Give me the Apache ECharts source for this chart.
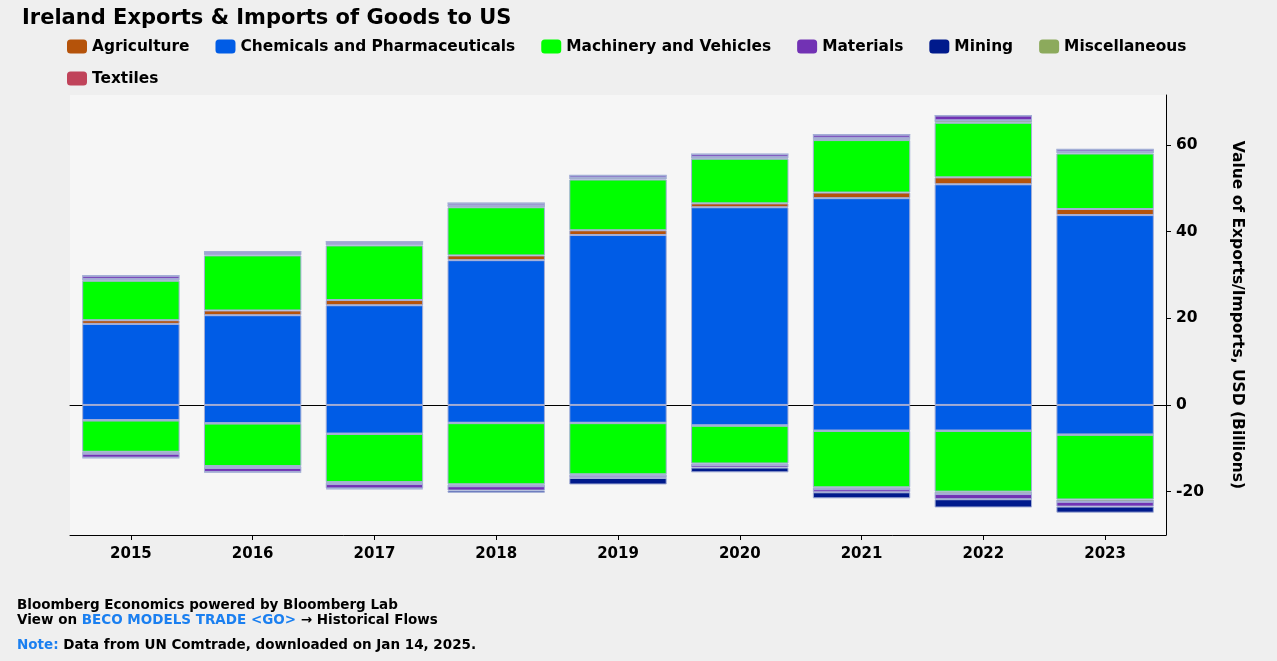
<!DOCTYPE html>
<html>
<head>
<meta charset="utf-8">
<script src="https://cdn.jsdelivr.net/npm/echarts@6/dist/echarts.min.js"></script>
<style>
html,body{margin:0;padding:0;background:#efefef;}
#chart{width:1277px;height:661px;}
</style>
</head>
<body>
<div id="chart"></div>
<script>
const years = ['2015','2016','2017','2018','2019','2020','2021','2022','2023'];
const yTicks = [-20, 0, 20, 40, 60];
const categoryNames = ['Agriculture','Chemicals and Pharmaceuticals','Machinery and Vehicles','Materials','Mining','Miscellaneous','Textiles'];

// Exports (positive, billions USD)
const expChemicals = [18.7, 20.7, 23.0, 33.4, 39.2, 45.6, 47.7, 50.9, 43.8];
const expAgriculture = [0.85, 1.1, 1.2, 1.1, 1.1, 0.9, 1.3, 1.6, 1.4];
const expMachinery = [9.1, 12.7, 12.6, 11.1, 11.7, 10.3, 12.1, 12.6, 12.8];
const expMiscellaneous = [0.4, 0.35, 0.35, 0.4, 0.4, 0.4, 0.5, 0.5, 0.4];
const expTextiles = [0.05, 0.05, 0.05, 0.05, 0.05, 0.05, 0.05, 0.05, 0.05];
const expMaterials = [0.7, 0.45, 0.45, 0.5, 0.5, 0.6, 0.7, 1.1, 0.5];
const expMining = [0.02, 0.02, 0.02, 0.02, 0.02, 0.02, 0.02, 0.02, 0.02];

// Imports (negative, billions USD)
const impChemicals = [-3.5, -4.2, -6.6, -4.1, -4.1, -4.7, -5.9, -5.9, -6.8];
const impAgriculture = [-0.1, -0.1, -0.1, -0.1, -0.1, -0.1, -0.1, -0.1, -0.1];
const impMachinery = [-7.2, -9.8, -11.1, -14.1, -11.8, -8.7, -13.0, -14.0, -14.9];
const impMiscellaneous = [-0.4, -0.4, -0.4, -0.4, -0.3, -0.3, -0.4, -0.5, -0.5];
const impTextiles = [-0.05, -0.05, -0.05, -0.05, -0.05, -0.05, -0.05, -0.05, -0.05];
const impMaterials = [-0.9, -0.9, -1.0, -1.0, -0.5, -0.6, -0.7, -1.2, -1.1];
const impMining = [-0.1, -0.1, -0.2, -0.5, -1.5, -1.1, -1.4, -1.9, -1.4];

const colors = {
  'Agriculture': '#b5530a',
  'Chemicals and Pharmaceuticals': '#005ce6',
  'Machinery and Vehicles': '#00ff00',
  'Materials': '#7232b4',
  'Mining': '#001a8c',
  'Miscellaneous': '#8caa5c',
  'Textiles': '#c0435a'
};

const stackOrder = [
  ['Chemicals and Pharmaceuticals', expChemicals, impChemicals],
  ['Agriculture', expAgriculture, impAgriculture],
  ['Machinery and Vehicles', expMachinery, impMachinery],
  ['Miscellaneous', expMiscellaneous, impMiscellaneous],
  ['Textiles', expTextiles, impTextiles],
  ['Materials', expMaterials, impMaterials],
  ['Mining', expMining, impMining]
];

const series = [];
stackOrder.forEach(([name, exp, imp]) => {
  [exp, imp].forEach(arr => {
    series.push({
      name: name,
      type: 'bar',
      stack: 'total',
      barWidth: '80%',
      z: 5,
      data: arr,
      itemStyle: {
        color: colors[name],
        borderColor: '#a3aed6',
        borderWidth: 1
      },
      emphasis: { disabled: true }
    });
  });
});

const font = 'DejaVu Sans, Verdana, sans-serif';
const legendBase = {
  itemWidth: 20, itemHeight: 14, itemGap: 26,
  padding: 0,
  icon: 'roundRect',
  itemStyle: { borderWidth: 0 },
  textStyle: { fontSize: 15.4, fontWeight: 'bold', color: '#000', fontFamily: font, padding: [0,0,0,0] }
};
const chart = echarts.init(document.getElementById('chart'));
chart.setOption({
  backgroundColor: '#efefef',
  animation: false,
  textStyle: { fontFamily: font },
  title: {
    text: 'Ireland Exports & Imports of Goods to US',
    left: 17, top: 3,
    textStyle: { fontSize: 21, fontWeight: 'bold', color: '#000', fontFamily: font }
  },
  legend: [
    Object.assign({}, legendBase, { data: categoryNames.slice(0, 6), left: 67, top: 39 }),
    Object.assign({}, legendBase, { data: categoryNames.slice(6), left: 67, top: 71 })
  ],
  grid: {
    left: 70, right: 111, top: 95, bottom: 126,
    show: true, backgroundColor: '#f6f6f6', borderWidth: 0
  },
  xAxis: [
    {
      type: 'category',
      data: years,
      position: 'bottom',
      z: 1,
      axisLine: { show: true, onZero: false, lineStyle: { color: '#000', width: 1 } },
      axisTick: { show: true, alignWithLabel: true, length: 5, lineStyle: { color: '#000' } },
      axisLabel: { fontSize: 15, fontWeight: 'bold', color: '#000', margin: 12, fontFamily: font },
      splitLine: { show: false }
    },
    {
      type: 'category',
      data: years,
      z: 1,
      axisLine: { show: true, onZero: true, lineStyle: { color: '#000', width: 1 } },
      axisTick: { show: false },
      axisLabel: { show: false },
      splitLine: { show: false }
    }
  ],
  yAxis: {
    type: 'value',
    position: 'right',
    min: -30, max: 71.5,
    name: 'Value of Exports/Imports, USD (Billions)',
    nameLocation: 'middle',
    nameRotate: -90,
    nameGap: 63,
    nameTextStyle: { fontSize: 15.5, fontWeight: 'bold', color: '#000', fontFamily: font },
    axisLine: { show: true, lineStyle: { color: '#000', width: 1 } },
    axisTick: { show: true, length: 5, customValues: yTicks, lineStyle: { color: '#000' } },
    axisLabel: { fontSize: 15.5, fontWeight: 'bold', color: '#000', margin: 10, customValues: yTicks, fontFamily: font },
    splitLine: { show: false }
  },
  graphic: [
    {
      type: 'text', left: 17, top: 598,
      style: {
        text: 'Bloomberg Economics powered by Bloomberg Lab\n{k|View on }{b|BECO MODELS TRADE <GO>}{k| → Historical Flows}',
        font: 'bold 13.5px ' + font, fill: '#000', lineHeight: 15,
        rich: {
          k: { font: 'bold 13.5px ' + font, fill: '#000', lineHeight: 15 },
          b: { font: 'bold 13.5px ' + font, fill: '#1a7ff0', lineHeight: 15 }
        }
      }
    },
    {
      type: 'text', left: 17, top: 638,
      style: {
        text: '{b|Note:} {k|Data from UN Comtrade, downloaded on Jan 14, 2025.}',
        font: 'bold 13.5px ' + font,
        rich: {
          k: { font: 'bold 13.5px ' + font, fill: '#000' },
          b: { font: 'bold 13.5px ' + font, fill: '#1a7ff0' }
        }
      }
    }
  ],
  series: series
});
</script>
</body>
</html>
